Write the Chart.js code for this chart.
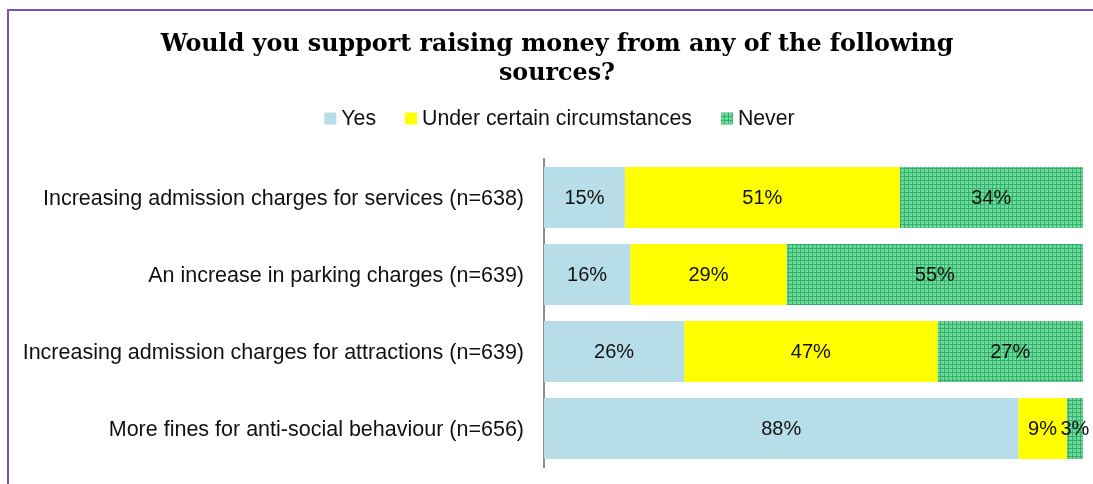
<!DOCTYPE html>
<html>
<head>
<meta charset="utf-8">
<script src="https://cdn.jsdelivr.net/npm/chart.js@4/dist/chart.umd.min.js"></script>
<style>
  html, body { margin: 0; padding: 0; background: #fff; }
  #wrap { position: relative; width: 1093px; height: 484px; overflow: hidden; }
  #frame { position: absolute; left: 7px; top: 9px; width: 1200px; height: 600px;
           border-left: 2px solid #7a4fbf; border-top: 2px solid #7a4fbf; box-sizing: border-box; }
  #c { position: absolute; left: 0; top: 0; }
</style>
</head>
<body>
<div id="wrap">
  <div id="frame"></div>
  <canvas id="c" width="1093" height="484"></canvas>
</div>
<script>
const categories = [
  'Increasing admission charges for services (n=638)',
  'An increase in parking charges (n=639)',
  'Increasing admission charges for attractions (n=639)',
  'More fines for anti-social behaviour (n=656)'
];
const seriesNames = ['Yes', 'Under certain circumstances', 'Never'];
const yesValues = [15, 16, 26, 88];
const underValues = [51, 29, 47, 9];
const neverValues = [34, 55, 27, 3];
const titleLines = ['Would you support raising money from any of the following', 'sources?'];

const SANS = '"Liberation Sans", Arial, sans-serif';

// Small green grid fill for the "Never" segments
function gridPattern(ctx) {
  const t = document.createElement('canvas');
  t.width = 4; t.height = 4;
  const g = t.getContext('2d');
  g.fillStyle = '#70d69c';
  g.fillRect(0, 0, 4, 4);
  g.fillStyle = '#2fb368';
  g.fillRect(0, 0, 4, 1);
  g.fillRect(0, 0, 1, 4);
  return ctx.createPattern(t, 'repeat');
}

// Writes each segment's value in its middle
const segmentLabels = {
  id: 'segmentLabels',
  afterDatasetsDraw(chart) {
    const ctx = chart.ctx;
    ctx.save();
    ctx.font = '20px ' + SANS;
    ctx.fillStyle = '#111';
    ctx.textAlign = 'center';
    ctx.textBaseline = 'middle';
    chart.data.datasets.forEach((ds, i) => {
      chart.getDatasetMeta(i).data.forEach((bar, j) => {
        const cx = (bar.x + bar.base) / 2;
        ctx.fillText(ds.data[j] + '%', cx, bar.y + 1);
      });
    });
    ctx.restore();
  }
};

// Two-line bold serif heading over the whole chart
const heading = {
  id: 'heading',
  afterDraw(chart, args, opts) {
    const ctx = chart.ctx;
    ctx.save();
    ctx.font = 'bold ' + opts.size + 'px "DejaVu Serif", Georgia, serif';
    ctx.fillStyle = '#000';
    ctx.textAlign = 'center';
    ctx.textBaseline = 'middle';
    opts.lines.forEach((line, i) => ctx.fillText(line, opts.centerX, opts.top + i * opts.lineGap));
    ctx.restore();
  }
};

// Compact legend row under the heading: small square, short gap, name
const compactLegend = {
  id: 'compactLegend',
  afterDraw(chart, args, opts) {
    const ctx = chart.ctx;
    const box = 12, gap = 5, itemGap = 29;
    ctx.save();
    ctx.font = opts.size + 'px ' + SANS;
    const items = chart.data.datasets.map(ds => ({
      text: ds.label, fill: ds.backgroundColor, w: ctx.measureText(ds.label).width
    }));
    const total = items.reduce((s, it) => s + box + gap + it.w, 0) + itemGap * (items.length - 1);
    let x = opts.centerX - total / 2;
    const y = opts.centerY;
    ctx.textBaseline = 'middle';
    ctx.textAlign = 'left';
    items.forEach(it => {
      ctx.fillStyle = it.fill;
      ctx.fillRect(x, y - box / 2, box, box);
      ctx.fillStyle = '#111';
      ctx.fillText(it.text, x + box + gap, y + 1);
      x += box + gap + it.w + itemGap;
    });
    ctx.restore();
  }
};

const canvas = document.getElementById('c');
const ctx2d = canvas.getContext('2d');

new Chart(canvas, {
  type: 'bar',
  data: {
    labels: categories,
    datasets: [
      { label: seriesNames[0], data: yesValues, backgroundColor: '#b7dde8' },
      { label: seriesNames[1], data: underValues, backgroundColor: '#ffff00' },
      { label: seriesNames[2], data: neverValues, backgroundColor: gridPattern(ctx2d) }
    ]
  },
  options: {
    indexAxis: 'y',
    responsive: false,
    animation: false,
    devicePixelRatio: 1,
    categoryPercentage: 1,
    barPercentage: 0.79,
    layout: { padding: { top: 159, right: 10, bottom: 17, left: 0 } },
    scales: {
      x: { stacked: true, min: 0, max: 100, display: false },
      y: {
        stacked: true,
        grid: { display: false, drawTicks: false },
        border: { display: true, color: '#8c8c8c', width: 2 },
        ticks: {
          color: '#111',
          padding: 20,
          labelOffset: 2,
          font: { family: SANS, size: 21.5 }
        },
        afterFit(scale) {
          scale.width = 544;
          scale.paddingTop = 0;
          scale.paddingBottom = 0;
        }
      }
    },
    plugins: {
      title: { display: false },
      legend: { display: false },
      heading: { lines: titleLines, size: 23.8, centerX: 557, top: 45, lineGap: 29 },
      compactLegend: { size: 21.3, centerX: 559.5, centerY: 118.5 },
      tooltip: { enabled: false }
    }
  },
  plugins: [segmentLabels, heading, compactLegend]
});
</script>
</body>
</html>
